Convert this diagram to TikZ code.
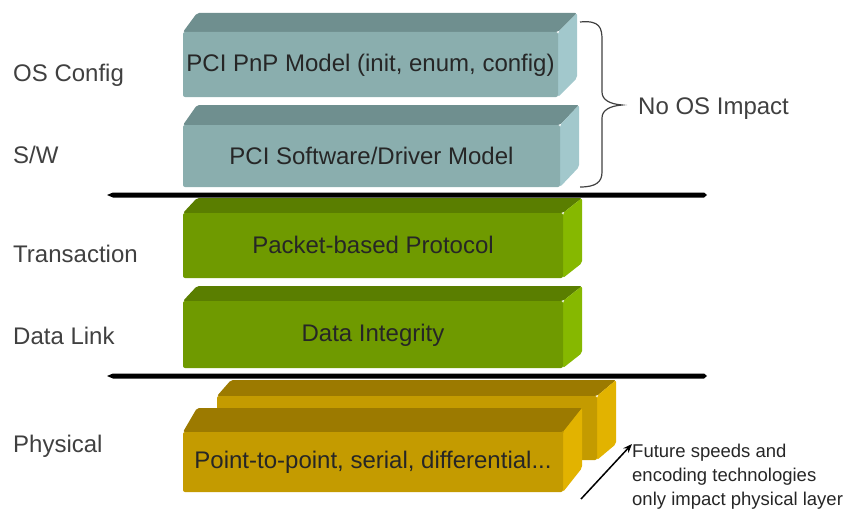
\documentclass[tikz,border=0pt]{standalone}
\usepackage{fontspec}
\setmainfont{Liberation Sans}
\usetikzlibrary{arrows.meta}

\definecolor{osfront}{HTML}{8AAEAE}
\definecolor{ostop}{HTML}{6F8F8F}
\definecolor{osside}{HTML}{A2C8CC}
\definecolor{lnkfront}{HTML}{6F9A00}
\definecolor{lnktop}{HTML}{5A7E00}
\definecolor{lnkside}{HTML}{86B800}
\definecolor{phyfront}{HTML}{C49B00}
\definecolor{phytop}{HTML}{9C7A00}
\definecolor{physide}{HTML}{E2B300}
\definecolor{labelgray}{HTML}{404040}

% slab: x-left, y-back, y-front, x-right, y-bottom, colour family
\newcommand{\slab}[6]{
  \fill[#6top, rounded corners=2pt] (#1,#3) -- (#1+14,#2) -- (#4+19,#2) -- (#4,#3) -- cycle;
  \fill[#6side, rounded corners=2pt] (#4,#3) -- (#4+19,#2) -- (#4+19,#5-#3+#2) -- (#4,#5) -- cycle;
  \fill[#6front, rounded corners=2pt] (#1,#3) rectangle (#4,#5);
}

\tikzset{
  layer/.style={font=\fontsize{24}{28}\selectfont, text=black!85},
  side label/.style={font=\fontsize{24}{28}\selectfont, text=labelgray, anchor=west, text height=17pt, text depth=5pt, inner sep=0pt},
  divider/.style={fill=black}
}

\begin{document}
\begin{tikzpicture}[x=1pt,y=-1pt]
  \useasboundingbox (0,0) rectangle (850,511);

  % os / software layers
  \slab{183}{13}{32}{558}{97}{os}
  \node[layer] (pnp) at (370.5,65) {PCI PnP Model (init, enum, config)};
  \slab{183}{105}{125}{560}{187}{os}
  \node[layer] (swmodel) at (371.5,156) {PCI Software/Driver Model};

  \fill[divider] (107,195) -- (113,192.5) -- (704,192.5) -- (707,195) -- (704,197.5) -- (113,197.5) -- cycle;

  % transaction and data link
  \slab{183}{198}{213}{563}{278}{lnk}
  \node[layer] (packet) at (373,245) {Packet-based Protocol};
  \slab{183}{286}{301}{563}{368}{lnk}
  \node[layer] (integrity) at (373,335) {Data Integrity};

  \fill[divider] (107,376) -- (113,373.5) -- (704,373.5) -- (707,376) -- (704,378.5) -- (113,378.5) -- cycle;

  % physical
  \slab{217}{380}{396}{597}{460}{phy}
  \slab{183}{408}{432}{563}{492}{phy}
  \node[layer] (ptp) at (373,462) {Point-to-point, serial, differential...};

  % labels on the left
  \node[side label] (osconfig) at (13,75) {OS Config};
  \node[side label] (sw) at (13,157) {S/W};
  \node[side label] (trans) at (13,256) {Transaction};
  \node[side label] (dlink) at (13,338) {Data Link};
  \node[side label] (phys) at (13,446) {Physical};

  % brace
  \draw[labelgray, line width=1.2pt] (580,22) .. controls (600,20) and (602,28) .. (602,40) -- (602,92)
    .. controls (602,100) and (610,104) .. (622,105)
    .. controls (610,106) and (602,110) .. (602,118) -- (602,172)
    .. controls (602,182) and (596,187) .. (580,187);
  \node[side label] (noos) at (638,108) {No OS Impact};

  \node[anchor=north west, inner sep=0pt, align=left, font=\fontsize{18.5}{24}\selectfont, text=black!85] (future) at (632,444)
    {Future speeds and\\encoding technologies\\only impact physical layer};
  \coordinate (tail) at (581,499);
  \draw[line width=1.5pt, -{Stealth[length=9pt,width=7pt]}] (tail) -- (future.north west);
\end{tikzpicture}
\end{document}
